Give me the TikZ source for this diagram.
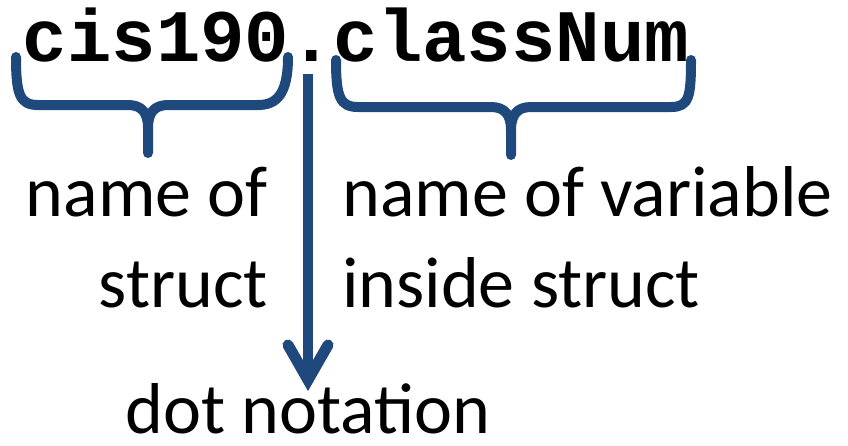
\documentclass[tikz,border=0pt]{standalone}
\usepackage{fontspec}
\setmainfont{Carlito}
\newfontfamily\codefont{Liberation Mono}
\definecolor{braceblue}{RGB}{31,73,125}
\begin{document}
\begin{tikzpicture}[x=1pt,y=-1pt,
  codetext/.style={inner sep=0pt,font=\codefont\bfseries\fontsize{74}{74}\selectfont},
  label/.style={inner sep=0pt,font=\fontsize{72}{72}\selectfont},
  bracestroke/.style={draw=braceblue,line width=10pt,line cap=round,line join=round},
  shaft/.style={draw=braceblue,line width=10pt,line cap=butt},
  barb/.style={draw=braceblue,line width=11pt,line cap=round,line join=miter}]
\useasboundingbox (0,0) rectangle (848,445);

% the expression
\node[codetext,anchor=base] (expr) at (356,61) {cis190.classNum};

% brace under the struct name
\draw[bracestroke] (16,57) .. controls (16,95) and (20,105) .. (38,105) -- (128,105)
  .. controls (142,105) and (148,113) .. (148,128) -- (148,153);
\draw[bracestroke] (148,128) .. controls (148,113) and (154,105) .. (168,105) -- (258,105)
  .. controls (276,105) and (288,95) .. (288,57);

% brace under the member name
\draw[bracestroke] (336,60) .. controls (336,97) and (340,107) .. (358,107) -- (491,107)
  .. controls (505,107) and (511,115) .. (511,130) -- (511,155);
\draw[bracestroke] (511,130) .. controls (511,115) and (517,107) .. (531,107) -- (671,107)
  .. controls (689,107) and (691,97) .. (691,60);

% labels
\node[label,anchor=base east] (sname) at (268,216) {name of};
\node[label,anchor=base east] (sname2) at (268,307) {struct};
\node[label,anchor=base west] (vname) at (342,216) {name of variable};
\node[label,anchor=base west] (vname2) at (342,307) {inside struct};
\node[label,anchor=base] (dotnote) at (308,433) {dot notation};

% arrow from the dot to its label
\coordinate (dotfoot) at (308,74);
\coordinate (tip) at (308,380);
\draw[shaft] (dotfoot) -- (tip);
\draw[barb] ([xshift=-20pt,yshift=35pt]tip) -- (tip) -- ([xshift=20pt,yshift=35pt]tip);
\end{tikzpicture}
\end{document}
